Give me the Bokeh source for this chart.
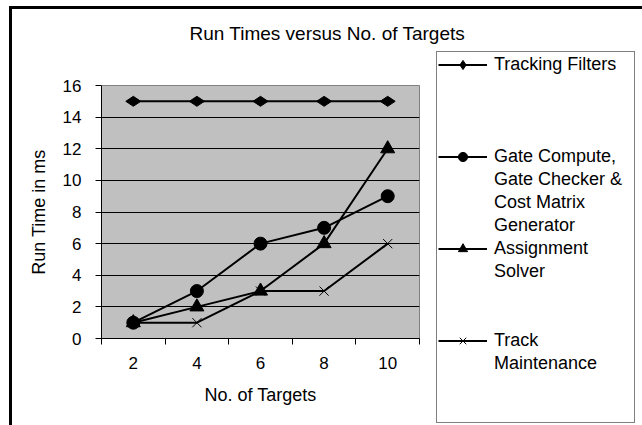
import numpy as np
from bokeh.plotting import figure
from bokeh.models import Range1d, FixedTicker, Legend, LegendItem, Title
from bokeh.embed import file_html
from bokeh.resources import INLINE

# ---- data ----
targets = [2, 4, 6, 8, 10]
tracking_filters = [15, 15, 15, 15, 15]
gate_compute = [1, 3, 6, 7, 9]
assignment_solver = [1, 2, 3, 6, 12]
track_maintenance = [1, 1, 3, 3, 6]
series_names = [
    ["Tracking Filters"],
    ["Gate Compute,", "Gate Checker &", "Cost Matrix", "Generator"],
    ["Assignment", "Solver"],
    ["Track", "Maintenance"],
]
y_ticks = [0, 2, 4, 6, 8, 10, 12, 14, 16]
x_bounds = [1, 3, 5, 7, 9, 11]

FONT = "Liberation Sans"

p = figure(frame_width=318, frame_height=253,
           min_border_left=89, min_border_right=219,
           min_border_top=76, min_border_bottom=87,
           x_range=Range1d(1, 11), y_range=Range1d(0, 16),
           output_backend="svg", toolbar_location=None)
p.title_location = None
p.margin = (6, 0, 0, 9)
p.styles = {"border-top": "3px solid black", "border-left": "3px solid black",
            "border-right": "3px solid black"}
p.background_fill_color = "#C0C0C0"
p.border_fill_color = "white"
p.outline_line_color = "#808080"
p.outline_line_width = 1

spacer = Title(text=" ", text_font_size="1px", standoff=27)
p.add_layout(spacer, "above")
title = Title(text="Run Times versus No. of Targets", text_font=FONT,
              text_font_size="19px", text_font_style="normal",
              text_color="black", align="left", offset=88, standoff=23)
p.add_layout(title, "above")

# x axis
xa = p.xaxis[0]
xa.ticker = FixedTicker(ticks=targets, minor_ticks=x_bounds)
xa.major_tick_line_color = None
xa.major_tick_out = 0
xa.major_tick_in = 0
xa.minor_tick_line_color = "black"
xa.minor_tick_out = 6
xa.minor_tick_in = 0
xa.axis_line_color = "black"
xa.major_label_text_font = FONT
xa.major_label_text_font_size = "17px"
xa.major_label_text_color = "black"
xa.major_label_standoff = 12
xa.axis_label = "No. of Targets"
xa.axis_label_text_font = FONT
xa.axis_label_text_font_size = "18px"
xa.axis_label_text_font_style = "normal"
xa.axis_label_text_color = "black"
xa.axis_label_standoff = 13

# y axis
ya = p.yaxis[0]
ya.ticker = FixedTicker(ticks=y_ticks, minor_ticks=[])
ya.major_tick_line_color = "black"
ya.major_tick_out = 6
ya.major_tick_in = 0
ya.axis_line_color = "black"
ya.major_label_text_font = FONT
ya.major_label_text_font_size = "17px"
ya.major_label_text_color = "black"
ya.major_label_standoff = 14
ya.axis_label = "Run Time in ms"
ya.axis_label_text_font = FONT
ya.axis_label_text_font_size = "18px"
ya.axis_label_text_font_style = "normal"
ya.axis_label_text_color = "black"
ya.axis_label_standoff = 11

p.xgrid.grid_line_color = None
p.ygrid.grid_line_color = "black"
p.ygrid.grid_line_width = 1

values = [tracking_filters, gate_compute, assignment_solver, track_maintenance]
markers = [("diamond", 15, np.pi / 2), ("circle", 13, 0), ("triangle", 14, 0), ("x", 13, 0)]

blank = p.line(x=[], y=[], line_alpha=0)

# legend layout: empty rows before each entry and at the end
gaps_before = [0, 3, 0, 2]
trailing_gaps = 2

items = []
for ys, (m, s, a), lines, gap in zip(values, markers, series_names, gaps_before):
    ln = p.line(targets, ys, line_color="black", line_width=2)
    if m == "x":
        sc = p.scatter(targets, ys, marker=m, size=s, line_color="black", line_width=1)
    else:
        sc = p.scatter(targets, ys, marker=m, size=s, angle=a,
                       fill_color="black", line_color="black")
    for _ in range(gap):
        items.append(LegendItem(label=" ", renderers=[blank]))
    items.append(LegendItem(label=lines[0], renderers=[ln, sc]))
    for t in lines[1:]:
        items.append(LegendItem(label=t, renderers=[blank]))
for _ in range(trailing_gaps):
    items.append(LegendItem(label=" ", renderers=[blank]))

ROW = 23
PAD = 1
n_rows = len(items)
legend_top = 65 - ROW / 2 - PAD          # page px
legend_bottom = legend_top + n_rows * ROW + 2 * PAD
frame_bottom = 338

legend = Legend(items=items, location=(17, frame_bottom - legend_bottom))
legend.label_text_font = FONT
legend.label_text_font_size = "18px"
legend.label_text_color = "black"
legend.glyph_width = 49
legend.glyph_height = ROW
legend.label_height = ROW
legend.label_standoff = 7
legend.label_width = 139
legend.padding = PAD
legend.spacing = 0
legend.margin = 0
legend.border_line_color = "black"
legend.border_line_width = 1
legend.background_fill_color = "white"
legend.background_fill_alpha = 1
p.add_layout(legend, "right")

open("out.html", "w").write(file_html(p, INLINE))
